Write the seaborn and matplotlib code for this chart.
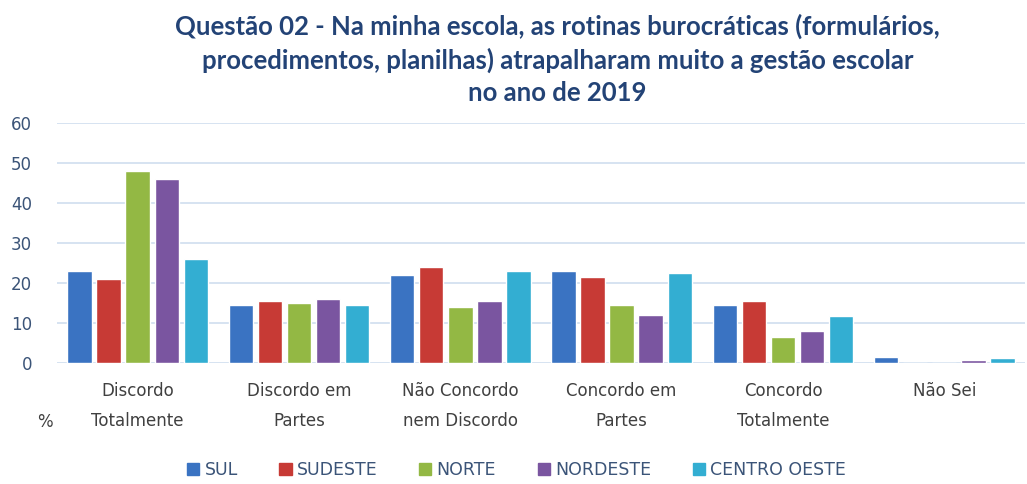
import numpy as np
import pandas as pd
import seaborn as sns
import matplotlib.pyplot as plt

# Data (% of respondents)
categories = ['Discordo\nTotalmente', 'Discordo em\nPartes', 'Não Concordo\nnem Discordo',
              'Concordo em\nPartes', 'Concordo\nTotalmente', 'Não Sei']
regions = ['SUL', 'SUDESTE', 'NORTE', 'NORDESTE', 'CENTRO OESTE']
sul = [23.1, 14.6, 22.1, 23.1, 14.6, 1.6]
sudeste = [21.1, 15.6, 24.1, 21.6, 15.6, 0.0]
norte = [48.0, 15.1, 14.1, 14.6, 6.6, 0.0]
nordeste = [46.0, 16.1, 15.6, 12.1, 8.1, 0.65]
centro_oeste = [26.1, 14.6, 23.1, 22.6, 11.8, 1.15]
colors = ['#3A73C2', '#C73A35', '#93B844', '#7A55A0', '#33AED2']

df = pd.DataFrame({'categoria': categories, 'SUL': sul, 'SUDESTE': sudeste,
                   'NORTE': norte, 'NORDESTE': nordeste, 'CENTRO OESTE': centro_oeste})
df = df.melt(id_vars='categoria', var_name='regiao', value_name='pct')

sns.set_style('white')
plt.rcParams['font.family'] = ['DejaVu Sans']

fig = plt.figure(figsize=(10.27, 4.84), dpi=100)
ax = fig.add_axes([0.0555, 0.25, 0.9425, 0.496])

sns.barplot(data=df, x='categoria', y='pct', hue='regiao', hue_order=regions,
            palette=colors, saturation=1, width=0.9, gap=0.16, ax=ax, legend=False)

ax.set_ylim(0, 60)
ax.set_yticks(range(0, 61, 10))
ax.yaxis.grid(True, color='#D3E0F0', linewidth=1.3)
ax.set_axisbelow(True)
for s in ax.spines.values():
    s.set_visible(False)
ax.tick_params(axis='y', length=0, pad=18, labelsize=12, labelcolor='#3B5478')
ax.tick_params(axis='x', length=0, pad=14, labelsize=12, labelcolor='#404040')
for lbl in ax.get_xticklabels():
    lbl.set_linespacing(1.85)
ax.set_xlabel('')
ax.set_ylabel('')
fig.text(0.036, 0.118, '%', fontsize=12, color='#404040')

fig.text(0.543, 0.972,
         'Questão 02 - Na minha escola, as rotinas burocráticas (formulários,\n'
         'procedimentos, planilhas) atrapalharam muito a gestão escolar\n'
         'no ano de 2019',
         ha='center', va='top', fontsize=18.5, fontweight='bold',
         color='#234376', family='Lato', linespacing=1.42)

handles = [plt.Rectangle((0, 0), 1, 1, color=c) for c in colors]
fig.legend(handles, regions, loc='center', bbox_to_anchor=(0.503, 0.028), ncol=5,
           frameon=False, fontsize=12.5, handlelength=0.7, handleheight=0.7,
           handletextpad=0.3, columnspacing=2.4, labelcolor='#3B5478')

fig.savefig('out.png', dpi=100)
